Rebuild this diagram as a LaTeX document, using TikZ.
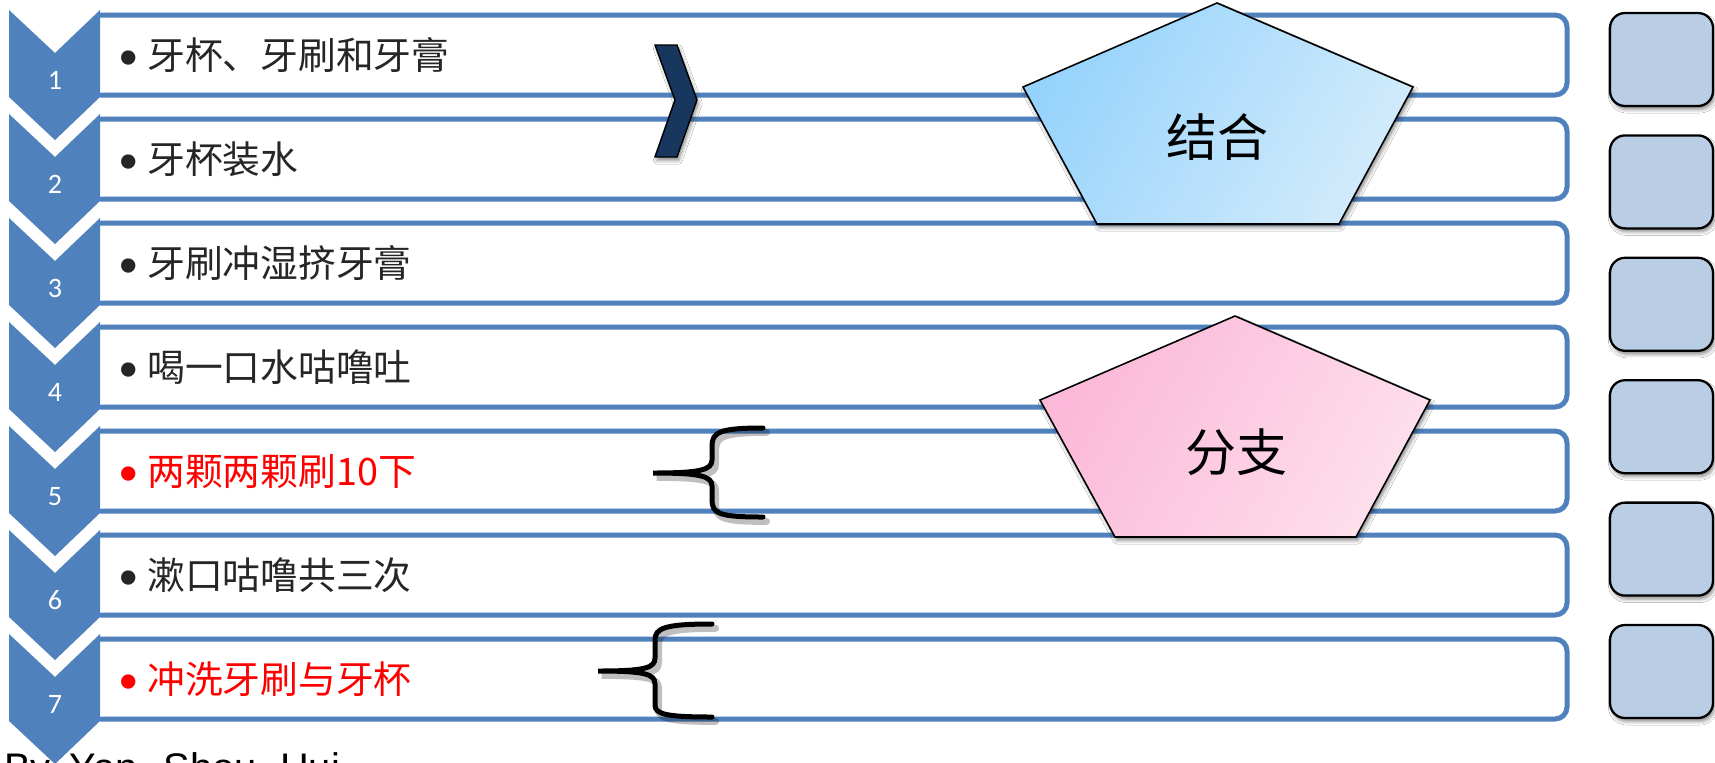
\documentclass[tikz,border=0pt]{standalone}
\usepackage{fontspec}
\setmainfont{Carlito}
\newfontfamily\cjk{Noto Sans CJK SC}
\newfontfamily\arial{Liberation Sans}
\usetikzlibrary{shadows.blur}
\definecolor{obar}{HTML}{4F81BD}
\definecolor{navy}{HTML}{17375E}
\definecolor{txt}{HTML}{262626}
\definecolor{rboxfill}{HTML}{B9CDE5}
\definecolor{bluea}{HTML}{96D3FC}
\definecolor{blueb}{HTML}{D2EBFB}
\definecolor{pinka}{HTML}{FCB8D8}
\definecolor{pinkb}{HTML}{FDDFEC}
\tikzset{
  barline/.style={draw=obar, line width=0.1cm},
  chev/.style={fill=obar},
  num/.style={text=white, font=\fontsize{16}{16}\selectfont, inner sep=0pt, text height=10.2pt, text depth=0pt},
  rowtext/.style={font=\cjk\fontsize{21.5}{21.5}\selectfont, inner sep=0pt, text height=17.6pt, text depth=1.3pt, anchor=west},
  bul/.style={font=\arial\fontsize{30}{30}\selectfont, inner sep=0pt, text height=23.2pt, text depth=0pt},
  shad/.style={blur shadow={shadow xshift=1pt, shadow yshift=-2pt, shadow blur radius=2pt, shadow opacity=45}},
  arrowshape/.style={fill=navy, draw=black, line width=0.8pt, shad},
  bracepath/.style={draw=black, line width=0.1cm, line cap=round},
  braceshadow/.style={draw=black, opacity=0.25, line width=0.14cm, line cap=round},
  pent/.style={draw=black, line width=0.9pt, shad},
  penttext/.style={font=\cjk\fontsize{29}{29}\selectfont, inner sep=0pt, text height=23.8pt, text depth=1.74pt},
  rbox/.style={draw=black, line width=1.3pt, fill=rboxfill, rounded corners=0.3cm, minimum width=2.06cm, minimum height=1.86cm, inner sep=0pt, shad},
  bytext/.style={font=\arial\fontsize{22.7}{22.7}\selectfont, inner sep=0pt, anchor=base west}
}
\newcommand\braceA{(763,428) .. controls (720,428) and (712,432) .. (712,446) -- (712,460) .. controls (712,470) and (700,473) .. (653,473) .. controls (700,473) and (712,476) .. (712,486) -- (712,500) .. controls (712,514) and (720,517) .. (763,517)}
\newcommand\braceB{(712,624) .. controls (665,624) and (655,628) .. (655,640) -- (655,658) .. controls (655,668) and (645,671) .. (598,671) .. controls (645,671) and (655,674) .. (655,684) -- (655,705) .. controls (655,714) and (665,717) .. (712,717)}
\begin{document}
\begin{tikzpicture}[x=0.02cm,y=-0.02cm]
\useasboundingbox (0,0) rectangle (1715,762);
\clip (0,0) rectangle (1715,762);
\fill[white] (0,0) rectangle (1715,762);
% rows
\foreach \k/\t/\c in {1/牙杯、牙刷和牙膏/txt,2/牙杯装水/txt,3/牙刷冲湿挤牙膏/txt,4/喝一口水咕噜吐/txt,5/两颗两颗刷10下/red,6/漱口咕噜共三次/txt,7/冲洗牙刷与牙杯/red}{
  \pgfmathsetmacro\ytop{15+104*(\k-1)}
  \pgfmathsetmacro\ybot{\ytop+80}
  \pgfmathsetmacro\yc{\ytop+40}
  \pgfmathsetmacro\ct{10+104*(\k-1)}
  \draw[barline] (100,\ytop) [rounded corners=0.24cm] -- (1567,\ytop) -- (1567,\ybot) [sharp corners] -- (100,\ybot);
  \fill[chev] (9,\ct) -- (55,\ct+43) -- (100,\ct) -- (100,\ct+87) -- (55,\ct+130) -- (9,\ct+87) -- cycle;
  \node[num] (n\k) at (55,\ct+71) {\k};
  \node[bul, text=\c] (b\k) at (129,\yc) {•};
  \node[rowtext, text=\c] (t\k) at (147,\yc) {\t};
}
% navy chevron
\draw[arrowshape] (655,45) -- (677,45) -- (697,100) -- (677,157) -- (655,157) -- (675,100) -- cycle;
% braces
\draw[braceshadow, xshift=2pt, yshift=-2.5pt] \braceA;
\draw[bracepath] \braceA;
\draw[braceshadow, xshift=2pt, yshift=-2.5pt] \braceB;
\draw[bracepath] \braceB;
% pentagons
\path[pent, left color=bluea, right color=blueb, shading angle=60] (1217,3) -- (1413,87) -- (1339,224) -- (1097,224) -- (1023,87) -- cycle;
\node[penttext] (p1) at (1217,137) {结合};
\path[pent, left color=pinka, right color=pinkb, shading angle=60] (1235,316) -- (1430,400) -- (1356,537) -- (1115,537) -- (1040,400) -- cycle;
\node[penttext] (p2) at (1236,452) {分支};
% right boxes
\foreach \k in {1,...,6}{
  \pgfmathsetmacro\by{13+122.4*(\k-1)+46.5}
  \node[rbox] (r\k) at (1661.5,\by) {};
}
% bottom text
\node[bytext] (by) at (4,781) {By\hspace{0.48em}Yan\hspace{0.65em}Shou\hspace{0.58em}Hui};
\end{tikzpicture}
\end{document}
